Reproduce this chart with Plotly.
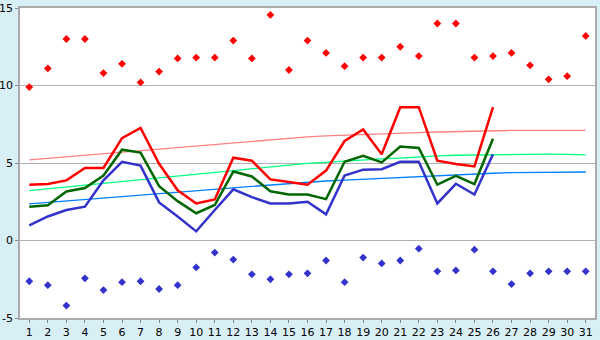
import plotly.graph_objects as go

days = list(range(1, 32))
days_obs = list(range(1, 27))

max_pts = [9.9, 11.1, 13.0, 13.0, 10.8, 11.4, 10.2, 10.9, 11.75, 11.8,
           11.8, 12.9, 11.75, 14.55, 11.0, 12.9, 12.1, 11.25, 11.8, 11.8,
           12.5, 11.9, 14.0, 14.0, 11.8, 11.9, 12.1, 11.3, 10.4, 10.6, 13.2]
min_pts = [-2.63, -2.88, -4.2, -2.44, -3.2, -2.69, -2.63, -3.13, -2.88, -1.74,
           -0.78, -1.23, -2.18, -2.5, -2.18, -2.12, -1.29, -2.69, -1.1, -1.48,
           -1.29, -0.53, -1.99, -1.93, -0.59, -1.99, -2.81, -2.12, -1.99, -1.99, -1.99]

red_line = [3.6, 3.64, 3.88, 4.68, 4.68, 6.6, 7.26, 4.95, 3.24, 2.39,
            2.65, 5.34, 5.15, 3.94, 3.77, 3.6, 4.51, 6.42, 7.16, 5.57,
            8.6, 8.6, 5.15, 4.93, 4.78, 8.6]
green_line = [2.18, 2.27, 3.16, 3.39, 4.19, 5.86, 5.67, 3.51, 2.54, 1.76,
              2.29, 4.45, 4.13, 3.18, 2.97, 2.97, 2.67, 5.08, 5.46, 5.04,
              6.06, 5.97, 3.6, 4.17, 3.64, 6.57]
blue_line = [0.97, 1.55, 1.97, 2.18, 3.88, 5.08, 4.83, 2.46, 1.55, 0.59,
             1.97, 3.3, 2.8, 2.39, 2.39, 2.5, 1.69, 4.19, 4.57, 4.6,
             5.08, 5.08, 2.39, 3.66, 2.97, 5.57]

pink_norm = [5.2, 5.3, 5.4, 5.5, 5.6, 5.7, 5.8, 5.9, 6.0, 6.1,
             6.2, 6.3, 6.4, 6.5, 6.6, 6.69, 6.75, 6.8, 6.85, 6.88,
             6.92, 6.96, 7.0, 7.03, 7.07, 7.1, 7.1, 7.1, 7.1, 7.1, 7.1]
lgreen_norm = [3.22, 3.34, 3.46, 3.57, 3.69, 3.81, 3.92, 4.04, 4.16, 4.27,
               4.39, 4.51, 4.62, 4.74, 4.86, 4.97, 5.05, 5.12, 5.19, 5.26,
               5.32, 5.4, 5.46, 5.5, 5.52, 5.52, 5.52, 5.54, 5.57, 5.56, 5.52]
lblue_norm = [2.36, 2.45, 2.55, 2.64, 2.74, 2.83, 2.92, 3.02, 3.11, 3.21,
              3.3, 3.39, 3.49, 3.58, 3.68, 3.77, 3.84, 3.9, 3.96, 4.02,
              4.08, 4.14, 4.2, 4.26, 4.3, 4.34, 4.38, 4.4, 4.42, 4.42, 4.42]

y_ticks = [-5, 0, 5, 10, 15]
y_tick_text = ["-5", "0", "5", "10", "15"]

fig = go.Figure()
fig.add_trace(go.Scatter(x=days, y=pink_norm, mode="lines",
                         line=dict(color="#ff8080", width=1.3)))
fig.add_trace(go.Scatter(x=days, y=lgreen_norm, mode="lines",
                         line=dict(color="#00ff80", width=1.3)))
fig.add_trace(go.Scatter(x=days, y=lblue_norm, mode="lines",
                         line=dict(color="#0080ff", width=1.3)))
fig.add_trace(go.Scatter(x=days_obs, y=red_line, mode="lines",
                         line=dict(color="#ff0000", width=2.5)))
fig.add_trace(go.Scatter(x=days_obs, y=green_line, mode="lines",
                         line=dict(color="#006600", width=2.5)))
fig.add_trace(go.Scatter(x=days_obs, y=blue_line, mode="lines",
                         line=dict(color="#3333cc", width=2.5)))
fig.add_trace(go.Scatter(x=days, y=max_pts, mode="markers",
                         marker=dict(symbol="diamond", size=6, color="#ff0000")))
fig.add_trace(go.Scatter(x=days, y=min_pts, mode="markers",
                         marker=dict(symbol="diamond", size=6, color="#3333cc")))

fig.update_layout(
    width=600, height=340,
    margin=dict(l=20, r=5, t=8, b=22),
    paper_bgcolor="#d9eff6",
    plot_bgcolor="#ffffff",
    showlegend=False,
    font=dict(family="DejaVu Sans", size=11, color="#000000"),
)
fig.update_xaxes(
    range=[0.5, 31.5], tickvals=days, ticktext=[str(d) for d in days],
    showgrid=False, zeroline=False, automargin=False,
    ticks="outside", ticklen=3, tickcolor="#888888",
    showline=True, linecolor="#aaaaaa", linewidth=1.5, mirror=True,
    tickfont=dict(size=11),
)
fig.update_yaxes(
    range=[-5, 15], tickvals=y_ticks, ticktext=y_tick_text,
    showgrid=True, gridcolor="#b0b0b0", gridwidth=1.2, zeroline=False,
    automargin=False,
    ticks="outside", ticklen=3, tickcolor="#888888",
    showline=True, linecolor="#aaaaaa", linewidth=1.5, mirror=True,
    tickfont=dict(size=11),
)

fig.write_html("out.html")
